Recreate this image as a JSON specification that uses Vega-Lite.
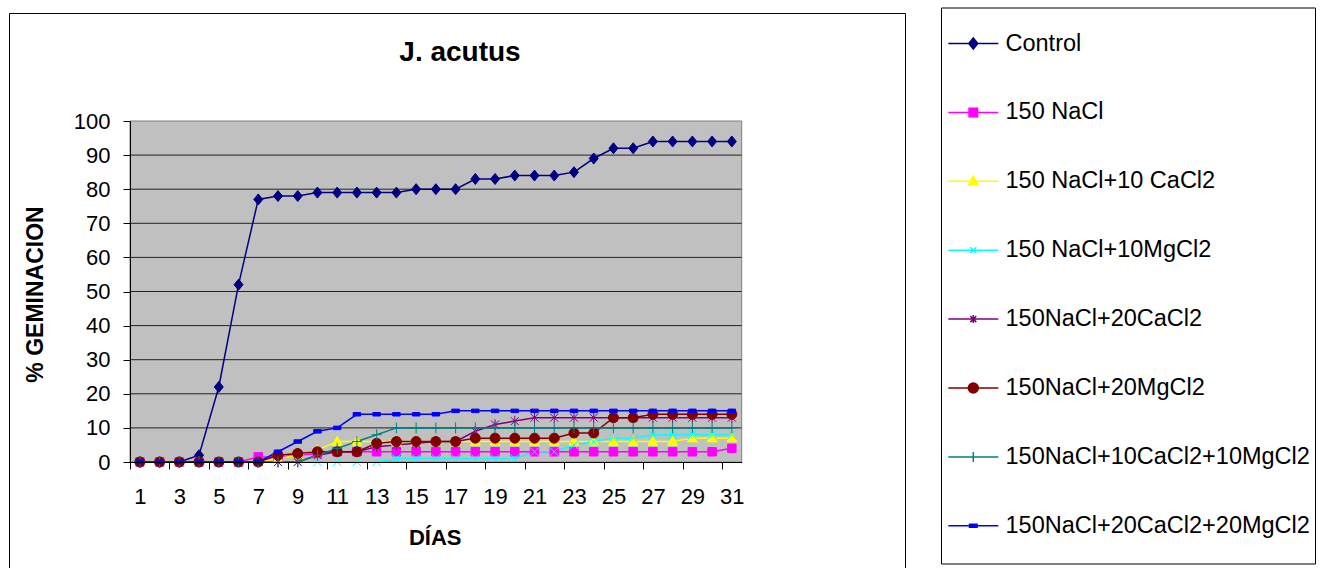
{
  "$schema": "https://vega.github.io/schema/vega-lite/v6.json",
  "width": 896,
  "height": 555,
  "autosize": {"type": "none"},
  "padding": {"left": 9, "top": 13, "right": 422, "bottom": 0},
  "background": "white",
  "title": {
    "text": "J. acutus",
    "frame": "group",
    "anchor": "middle",
    "offset": 0,
    "dx": 3,
    "dy": 82,
    "baseline": "alphabetic",
    "font": "Liberation Sans",
    "fontSize": 28,
    "fontWeight": "bold",
    "color": "#000000"
  },
  "datasets": {
    "germ": [
      {"day": 1, "series": "Control", "pct": 0},
      {"day": 2, "series": "Control", "pct": 0},
      {"day": 3, "series": "Control", "pct": 0},
      {"day": 4, "series": "Control", "pct": 2},
      {"day": 5, "series": "Control", "pct": 22},
      {"day": 6, "series": "Control", "pct": 52},
      {"day": 7, "series": "Control", "pct": 77},
      {"day": 8, "series": "Control", "pct": 78},
      {"day": 9, "series": "Control", "pct": 78},
      {"day": 10, "series": "Control", "pct": 79},
      {"day": 11, "series": "Control", "pct": 79},
      {"day": 12, "series": "Control", "pct": 79},
      {"day": 13, "series": "Control", "pct": 79},
      {"day": 14, "series": "Control", "pct": 79},
      {"day": 15, "series": "Control", "pct": 80},
      {"day": 16, "series": "Control", "pct": 80},
      {"day": 17, "series": "Control", "pct": 80},
      {"day": 18, "series": "Control", "pct": 83},
      {"day": 19, "series": "Control", "pct": 83},
      {"day": 20, "series": "Control", "pct": 84},
      {"day": 21, "series": "Control", "pct": 84},
      {"day": 22, "series": "Control", "pct": 84},
      {"day": 23, "series": "Control", "pct": 85},
      {"day": 24, "series": "Control", "pct": 89},
      {"day": 25, "series": "Control", "pct": 92},
      {"day": 26, "series": "Control", "pct": 92},
      {"day": 27, "series": "Control", "pct": 94},
      {"day": 28, "series": "Control", "pct": 94},
      {"day": 29, "series": "Control", "pct": 94},
      {"day": 30, "series": "Control", "pct": 94},
      {"day": 31, "series": "Control", "pct": 94},

      {"day": 1, "series": "150 NaCl", "pct": 0},
      {"day": 2, "series": "150 NaCl", "pct": 0},
      {"day": 3, "series": "150 NaCl", "pct": 0},
      {"day": 4, "series": "150 NaCl", "pct": 0},
      {"day": 5, "series": "150 NaCl", "pct": 0},
      {"day": 6, "series": "150 NaCl", "pct": 0},
      {"day": 7, "series": "150 NaCl", "pct": 1.5},
      {"day": 8, "series": "150 NaCl", "pct": 1.5},
      {"day": 9, "series": "150 NaCl", "pct": 2},
      {"day": 10, "series": "150 NaCl", "pct": 2.5},
      {"day": 11, "series": "150 NaCl", "pct": 3},
      {"day": 12, "series": "150 NaCl", "pct": 3},
      {"day": 13, "series": "150 NaCl", "pct": 3},
      {"day": 14, "series": "150 NaCl", "pct": 3},
      {"day": 15, "series": "150 NaCl", "pct": 3},
      {"day": 16, "series": "150 NaCl", "pct": 3},
      {"day": 17, "series": "150 NaCl", "pct": 3},
      {"day": 18, "series": "150 NaCl", "pct": 3},
      {"day": 19, "series": "150 NaCl", "pct": 3},
      {"day": 20, "series": "150 NaCl", "pct": 3},
      {"day": 21, "series": "150 NaCl", "pct": 3},
      {"day": 22, "series": "150 NaCl", "pct": 3},
      {"day": 23, "series": "150 NaCl", "pct": 3},
      {"day": 24, "series": "150 NaCl", "pct": 3},
      {"day": 25, "series": "150 NaCl", "pct": 3},
      {"day": 26, "series": "150 NaCl", "pct": 3},
      {"day": 27, "series": "150 NaCl", "pct": 3},
      {"day": 28, "series": "150 NaCl", "pct": 3},
      {"day": 29, "series": "150 NaCl", "pct": 3},
      {"day": 30, "series": "150 NaCl", "pct": 3},
      {"day": 31, "series": "150 NaCl", "pct": 4},

      {"day": 1, "series": "150 NaCl+10 CaCl2", "pct": 0},
      {"day": 2, "series": "150 NaCl+10 CaCl2", "pct": 0},
      {"day": 3, "series": "150 NaCl+10 CaCl2", "pct": 0},
      {"day": 4, "series": "150 NaCl+10 CaCl2", "pct": 0},
      {"day": 5, "series": "150 NaCl+10 CaCl2", "pct": 0},
      {"day": 6, "series": "150 NaCl+10 CaCl2", "pct": 0},
      {"day": 7, "series": "150 NaCl+10 CaCl2", "pct": 0},
      {"day": 8, "series": "150 NaCl+10 CaCl2", "pct": 1},
      {"day": 9, "series": "150 NaCl+10 CaCl2", "pct": 2},
      {"day": 10, "series": "150 NaCl+10 CaCl2", "pct": 3.5},
      {"day": 11, "series": "150 NaCl+10 CaCl2", "pct": 6},
      {"day": 12, "series": "150 NaCl+10 CaCl2", "pct": 6},
      {"day": 13, "series": "150 NaCl+10 CaCl2", "pct": 6},
      {"day": 14, "series": "150 NaCl+10 CaCl2", "pct": 6},
      {"day": 15, "series": "150 NaCl+10 CaCl2", "pct": 6},
      {"day": 16, "series": "150 NaCl+10 CaCl2", "pct": 6},
      {"day": 17, "series": "150 NaCl+10 CaCl2", "pct": 6},
      {"day": 18, "series": "150 NaCl+10 CaCl2", "pct": 6},
      {"day": 19, "series": "150 NaCl+10 CaCl2", "pct": 6},
      {"day": 20, "series": "150 NaCl+10 CaCl2", "pct": 6},
      {"day": 21, "series": "150 NaCl+10 CaCl2", "pct": 6},
      {"day": 22, "series": "150 NaCl+10 CaCl2", "pct": 6},
      {"day": 23, "series": "150 NaCl+10 CaCl2", "pct": 6},
      {"day": 24, "series": "150 NaCl+10 CaCl2", "pct": 6},
      {"day": 25, "series": "150 NaCl+10 CaCl2", "pct": 6},
      {"day": 26, "series": "150 NaCl+10 CaCl2", "pct": 6},
      {"day": 27, "series": "150 NaCl+10 CaCl2", "pct": 6},
      {"day": 28, "series": "150 NaCl+10 CaCl2", "pct": 6},
      {"day": 29, "series": "150 NaCl+10 CaCl2", "pct": 7},
      {"day": 30, "series": "150 NaCl+10 CaCl2", "pct": 7},
      {"day": 31, "series": "150 NaCl+10 CaCl2", "pct": 7},

      {"day": 1, "series": "150 NaCl+10MgCl2", "pct": 0},
      {"day": 2, "series": "150 NaCl+10MgCl2", "pct": 0},
      {"day": 3, "series": "150 NaCl+10MgCl2", "pct": 0},
      {"day": 4, "series": "150 NaCl+10MgCl2", "pct": 0},
      {"day": 5, "series": "150 NaCl+10MgCl2", "pct": 0},
      {"day": 6, "series": "150 NaCl+10MgCl2", "pct": 0},
      {"day": 7, "series": "150 NaCl+10MgCl2", "pct": 0},
      {"day": 8, "series": "150 NaCl+10MgCl2", "pct": 0},
      {"day": 9, "series": "150 NaCl+10MgCl2", "pct": 0},
      {"day": 10, "series": "150 NaCl+10MgCl2", "pct": 0},
      {"day": 11, "series": "150 NaCl+10MgCl2", "pct": 0},
      {"day": 12, "series": "150 NaCl+10MgCl2", "pct": 0},
      {"day": 13, "series": "150 NaCl+10MgCl2", "pct": 0},
      {"day": 14, "series": "150 NaCl+10MgCl2", "pct": 1},
      {"day": 15, "series": "150 NaCl+10MgCl2", "pct": 1},
      {"day": 16, "series": "150 NaCl+10MgCl2", "pct": 1},
      {"day": 17, "series": "150 NaCl+10MgCl2", "pct": 1},
      {"day": 18, "series": "150 NaCl+10MgCl2", "pct": 1},
      {"day": 19, "series": "150 NaCl+10MgCl2", "pct": 1},
      {"day": 20, "series": "150 NaCl+10MgCl2", "pct": 1},
      {"day": 21, "series": "150 NaCl+10MgCl2", "pct": 3},
      {"day": 22, "series": "150 NaCl+10MgCl2", "pct": 3},
      {"day": 23, "series": "150 NaCl+10MgCl2", "pct": 5},
      {"day": 24, "series": "150 NaCl+10MgCl2", "pct": 6},
      {"day": 25, "series": "150 NaCl+10MgCl2", "pct": 7},
      {"day": 26, "series": "150 NaCl+10MgCl2", "pct": 7},
      {"day": 27, "series": "150 NaCl+10MgCl2", "pct": 8},
      {"day": 28, "series": "150 NaCl+10MgCl2", "pct": 8},
      {"day": 29, "series": "150 NaCl+10MgCl2", "pct": 8},
      {"day": 30, "series": "150 NaCl+10MgCl2", "pct": 8},
      {"day": 31, "series": "150 NaCl+10MgCl2", "pct": 8},

      {"day": 1, "series": "150NaCl+20CaCl2", "pct": 0},
      {"day": 2, "series": "150NaCl+20CaCl2", "pct": 0},
      {"day": 3, "series": "150NaCl+20CaCl2", "pct": 0},
      {"day": 4, "series": "150NaCl+20CaCl2", "pct": 0},
      {"day": 5, "series": "150NaCl+20CaCl2", "pct": 0},
      {"day": 6, "series": "150NaCl+20CaCl2", "pct": 0},
      {"day": 7, "series": "150NaCl+20CaCl2", "pct": 0},
      {"day": 8, "series": "150NaCl+20CaCl2", "pct": 0},
      {"day": 9, "series": "150NaCl+20CaCl2", "pct": 0},
      {"day": 10, "series": "150NaCl+20CaCl2", "pct": 2},
      {"day": 11, "series": "150NaCl+20CaCl2", "pct": 3},
      {"day": 12, "series": "150NaCl+20CaCl2", "pct": 3},
      {"day": 13, "series": "150NaCl+20CaCl2", "pct": 4.5},
      {"day": 14, "series": "150NaCl+20CaCl2", "pct": 5},
      {"day": 15, "series": "150NaCl+20CaCl2", "pct": 5.5},
      {"day": 16, "series": "150NaCl+20CaCl2", "pct": 6},
      {"day": 17, "series": "150NaCl+20CaCl2", "pct": 6},
      {"day": 18, "series": "150NaCl+20CaCl2", "pct": 9},
      {"day": 19, "series": "150NaCl+20CaCl2", "pct": 11},
      {"day": 20, "series": "150NaCl+20CaCl2", "pct": 12},
      {"day": 21, "series": "150NaCl+20CaCl2", "pct": 13},
      {"day": 22, "series": "150NaCl+20CaCl2", "pct": 13},
      {"day": 23, "series": "150NaCl+20CaCl2", "pct": 13},
      {"day": 24, "series": "150NaCl+20CaCl2", "pct": 13},
      {"day": 25, "series": "150NaCl+20CaCl2", "pct": 13},
      {"day": 26, "series": "150NaCl+20CaCl2", "pct": 13},
      {"day": 27, "series": "150NaCl+20CaCl2", "pct": 13},
      {"day": 28, "series": "150NaCl+20CaCl2", "pct": 13},
      {"day": 29, "series": "150NaCl+20CaCl2", "pct": 13},
      {"day": 30, "series": "150NaCl+20CaCl2", "pct": 13},
      {"day": 31, "series": "150NaCl+20CaCl2", "pct": 13},

      {"day": 1, "series": "150NaCl+20MgCl2", "pct": 0},
      {"day": 2, "series": "150NaCl+20MgCl2", "pct": 0},
      {"day": 3, "series": "150NaCl+20MgCl2", "pct": 0},
      {"day": 4, "series": "150NaCl+20MgCl2", "pct": 0},
      {"day": 5, "series": "150NaCl+20MgCl2", "pct": 0},
      {"day": 6, "series": "150NaCl+20MgCl2", "pct": 0},
      {"day": 7, "series": "150NaCl+20MgCl2", "pct": 0},
      {"day": 8, "series": "150NaCl+20MgCl2", "pct": 2},
      {"day": 9, "series": "150NaCl+20MgCl2", "pct": 2.5},
      {"day": 10, "series": "150NaCl+20MgCl2", "pct": 3},
      {"day": 11, "series": "150NaCl+20MgCl2", "pct": 3},
      {"day": 12, "series": "150NaCl+20MgCl2", "pct": 3},
      {"day": 13, "series": "150NaCl+20MgCl2", "pct": 5.5},
      {"day": 14, "series": "150NaCl+20MgCl2", "pct": 6},
      {"day": 15, "series": "150NaCl+20MgCl2", "pct": 6},
      {"day": 16, "series": "150NaCl+20MgCl2", "pct": 6},
      {"day": 17, "series": "150NaCl+20MgCl2", "pct": 6},
      {"day": 18, "series": "150NaCl+20MgCl2", "pct": 7},
      {"day": 19, "series": "150NaCl+20MgCl2", "pct": 7},
      {"day": 20, "series": "150NaCl+20MgCl2", "pct": 7},
      {"day": 21, "series": "150NaCl+20MgCl2", "pct": 7},
      {"day": 22, "series": "150NaCl+20MgCl2", "pct": 7},
      {"day": 23, "series": "150NaCl+20MgCl2", "pct": 8.5},
      {"day": 24, "series": "150NaCl+20MgCl2", "pct": 8.5},
      {"day": 25, "series": "150NaCl+20MgCl2", "pct": 13},
      {"day": 26, "series": "150NaCl+20MgCl2", "pct": 13},
      {"day": 27, "series": "150NaCl+20MgCl2", "pct": 14},
      {"day": 28, "series": "150NaCl+20MgCl2", "pct": 14},
      {"day": 29, "series": "150NaCl+20MgCl2", "pct": 14},
      {"day": 30, "series": "150NaCl+20MgCl2", "pct": 14},
      {"day": 31, "series": "150NaCl+20MgCl2", "pct": 14},

      {"day": 1, "series": "150NaCl+10CaCl2+10MgCl2", "pct": 0},
      {"day": 2, "series": "150NaCl+10CaCl2+10MgCl2", "pct": 0},
      {"day": 3, "series": "150NaCl+10CaCl2+10MgCl2", "pct": 0},
      {"day": 4, "series": "150NaCl+10CaCl2+10MgCl2", "pct": 0},
      {"day": 5, "series": "150NaCl+10CaCl2+10MgCl2", "pct": 0},
      {"day": 6, "series": "150NaCl+10CaCl2+10MgCl2", "pct": 0},
      {"day": 7, "series": "150NaCl+10CaCl2+10MgCl2", "pct": 0},
      {"day": 8, "series": "150NaCl+10CaCl2+10MgCl2", "pct": 0},
      {"day": 9, "series": "150NaCl+10CaCl2+10MgCl2", "pct": 0},
      {"day": 10, "series": "150NaCl+10CaCl2+10MgCl2", "pct": 2},
      {"day": 11, "series": "150NaCl+10CaCl2+10MgCl2", "pct": 4},
      {"day": 12, "series": "150NaCl+10CaCl2+10MgCl2", "pct": 6},
      {"day": 13, "series": "150NaCl+10CaCl2+10MgCl2", "pct": 8},
      {"day": 14, "series": "150NaCl+10CaCl2+10MgCl2", "pct": 10},
      {"day": 15, "series": "150NaCl+10CaCl2+10MgCl2", "pct": 10},
      {"day": 16, "series": "150NaCl+10CaCl2+10MgCl2", "pct": 10},
      {"day": 17, "series": "150NaCl+10CaCl2+10MgCl2", "pct": 10},
      {"day": 18, "series": "150NaCl+10CaCl2+10MgCl2", "pct": 10},
      {"day": 19, "series": "150NaCl+10CaCl2+10MgCl2", "pct": 10},
      {"day": 20, "series": "150NaCl+10CaCl2+10MgCl2", "pct": 10},
      {"day": 21, "series": "150NaCl+10CaCl2+10MgCl2", "pct": 10},
      {"day": 22, "series": "150NaCl+10CaCl2+10MgCl2", "pct": 10},
      {"day": 23, "series": "150NaCl+10CaCl2+10MgCl2", "pct": 10},
      {"day": 24, "series": "150NaCl+10CaCl2+10MgCl2", "pct": 10},
      {"day": 25, "series": "150NaCl+10CaCl2+10MgCl2", "pct": 10},
      {"day": 26, "series": "150NaCl+10CaCl2+10MgCl2", "pct": 10},
      {"day": 27, "series": "150NaCl+10CaCl2+10MgCl2", "pct": 10},
      {"day": 28, "series": "150NaCl+10CaCl2+10MgCl2", "pct": 10},
      {"day": 29, "series": "150NaCl+10CaCl2+10MgCl2", "pct": 10},
      {"day": 30, "series": "150NaCl+10CaCl2+10MgCl2", "pct": 10},
      {"day": 31, "series": "150NaCl+10CaCl2+10MgCl2", "pct": 10},

      {"day": 1, "series": "150NaCl+20CaCl2+20MgCl2", "pct": 0},
      {"day": 2, "series": "150NaCl+20CaCl2+20MgCl2", "pct": 0},
      {"day": 3, "series": "150NaCl+20CaCl2+20MgCl2", "pct": 0},
      {"day": 4, "series": "150NaCl+20CaCl2+20MgCl2", "pct": 0},
      {"day": 5, "series": "150NaCl+20CaCl2+20MgCl2", "pct": 0},
      {"day": 6, "series": "150NaCl+20CaCl2+20MgCl2", "pct": 0},
      {"day": 7, "series": "150NaCl+20CaCl2+20MgCl2", "pct": 0},
      {"day": 8, "series": "150NaCl+20CaCl2+20MgCl2", "pct": 3},
      {"day": 9, "series": "150NaCl+20CaCl2+20MgCl2", "pct": 6},
      {"day": 10, "series": "150NaCl+20CaCl2+20MgCl2", "pct": 9},
      {"day": 11, "series": "150NaCl+20CaCl2+20MgCl2", "pct": 10},
      {"day": 12, "series": "150NaCl+20CaCl2+20MgCl2", "pct": 14},
      {"day": 13, "series": "150NaCl+20CaCl2+20MgCl2", "pct": 14},
      {"day": 14, "series": "150NaCl+20CaCl2+20MgCl2", "pct": 14},
      {"day": 15, "series": "150NaCl+20CaCl2+20MgCl2", "pct": 14},
      {"day": 16, "series": "150NaCl+20CaCl2+20MgCl2", "pct": 14},
      {"day": 17, "series": "150NaCl+20CaCl2+20MgCl2", "pct": 15},
      {"day": 18, "series": "150NaCl+20CaCl2+20MgCl2", "pct": 15},
      {"day": 19, "series": "150NaCl+20CaCl2+20MgCl2", "pct": 15},
      {"day": 20, "series": "150NaCl+20CaCl2+20MgCl2", "pct": 15},
      {"day": 21, "series": "150NaCl+20CaCl2+20MgCl2", "pct": 15},
      {"day": 22, "series": "150NaCl+20CaCl2+20MgCl2", "pct": 15},
      {"day": 23, "series": "150NaCl+20CaCl2+20MgCl2", "pct": 15},
      {"day": 24, "series": "150NaCl+20CaCl2+20MgCl2", "pct": 15},
      {"day": 25, "series": "150NaCl+20CaCl2+20MgCl2", "pct": 15},
      {"day": 26, "series": "150NaCl+20CaCl2+20MgCl2", "pct": 15},
      {"day": 27, "series": "150NaCl+20CaCl2+20MgCl2", "pct": 15},
      {"day": 28, "series": "150NaCl+20CaCl2+20MgCl2", "pct": 15},
      {"day": 29, "series": "150NaCl+20CaCl2+20MgCl2", "pct": 15},
      {"day": 30, "series": "150NaCl+20CaCl2+20MgCl2", "pct": 15},
      {"day": 31, "series": "150NaCl+20CaCl2+20MgCl2", "pct": 15}
    ]
  },
  "data": {"name": "germ"},
  "layer": [
    {
      "data": {"values": [{}]},
      "mark": {"type": "rect", "fill": "#C0C0C0", "stroke": "#808080", "strokeWidth": 1},
      "encoding": {
        "x": {
          "datum": 0.5,
          "type": "quantitative",
          "title": "DÍAS",
          "scale": {"domain": [0.5, 31.5], "range": [121, 732.7], "nice": false, "zero": false},
          "axis": {
            "values": [0.5, 1.5, 2.5, 3.5, 4.5, 5.5, 6.5, 7.5, 8.5, 9.5, 10.5, 11.5, 12.5, 13.5, 14.5, 15.5, 16.5, 17.5, 18.5, 19.5, 20.5, 21.5, 22.5, 23.5, 24.5, 25.5, 26.5, 27.5, 28.5, 29.5, 30.5, 31.5],
            "offset": -106,
            "labelExpr": "(datum.value + 0.5) % 2 == 1 ? '' + (datum.value + 0.5) : ''",
            "labelOffset": 9.87,
            "labelOverlap": false,
            "labelFlush": false,
            "labelBound": false,
            "labelPadding": 34,
            "labelBaseline": "alphabetic",
            "labelAlign": "center",
            "tickSize": 7,
            "titleX": 425.7,
            "titleY": 82,
            "titleBaseline": "alphabetic",
            "titleAlign": "center",
            "titleFontSize": 22,
            "grid": false,
            "zindex": 1
          }
        },
        "x2": {"datum": 31.5},
        "y": {
          "datum": 0,
          "type": "quantitative",
          "title": "% GEMINACION",
          "scale": {"domain": [0, 100], "range": [449, 108], "nice": false, "zero": false},
          "axis": {
            "values": [0, 10, 20, 30, 40, 50, 60, 70, 80, 90, 100],
            "offset": -121,
            "labelPadding": 13,
            "labelFlush": false,
            "labelOverlap": false,
            "tickSize": 7,
            "titleX": -87.3,
            "titleY": 281,
            "titleAngle": 270,
            "titleBaseline": "alphabetic",
            "titleAlign": "center",
            "titleFontSize": 23,
            "grid": false,
            "zindex": 1
          }
        },
        "y2": {"datum": 100}
      }
    },
    {"data": {"values": [{}]}, "mark": {"type": "rule", "color": "#222222", "strokeWidth": 1}, "encoding": {"x": {"datum": 0.5}, "x2": {"datum": 31.5}, "y": {"datum": 10}}},
    {"data": {"values": [{}]}, "mark": {"type": "rule", "color": "#222222", "strokeWidth": 1}, "encoding": {"x": {"datum": 0.5}, "x2": {"datum": 31.5}, "y": {"datum": 20}}},
    {"data": {"values": [{}]}, "mark": {"type": "rule", "color": "#222222", "strokeWidth": 1}, "encoding": {"x": {"datum": 0.5}, "x2": {"datum": 31.5}, "y": {"datum": 30}}},
    {"data": {"values": [{}]}, "mark": {"type": "rule", "color": "#222222", "strokeWidth": 1}, "encoding": {"x": {"datum": 0.5}, "x2": {"datum": 31.5}, "y": {"datum": 40}}},
    {"data": {"values": [{}]}, "mark": {"type": "rule", "color": "#222222", "strokeWidth": 1}, "encoding": {"x": {"datum": 0.5}, "x2": {"datum": 31.5}, "y": {"datum": 50}}},
    {"data": {"values": [{}]}, "mark": {"type": "rule", "color": "#222222", "strokeWidth": 1}, "encoding": {"x": {"datum": 0.5}, "x2": {"datum": 31.5}, "y": {"datum": 60}}},
    {"data": {"values": [{}]}, "mark": {"type": "rule", "color": "#222222", "strokeWidth": 1}, "encoding": {"x": {"datum": 0.5}, "x2": {"datum": 31.5}, "y": {"datum": 70}}},
    {"data": {"values": [{}]}, "mark": {"type": "rule", "color": "#222222", "strokeWidth": 1}, "encoding": {"x": {"datum": 0.5}, "x2": {"datum": 31.5}, "y": {"datum": 80}}},
    {"data": {"values": [{}]}, "mark": {"type": "rule", "color": "#222222", "strokeWidth": 1}, "encoding": {"x": {"datum": 0.5}, "x2": {"datum": 31.5}, "y": {"datum": 90}}},
    {
      "mark": {"type": "line", "strokeWidth": 1.5},
      "encoding": {
        "x": {"field": "day", "type": "quantitative", "title": "DÍAS"},
        "y": {"field": "pct", "type": "quantitative", "title": "% GEMINACION"},
        "color": {
          "field": "series",
          "type": "nominal",
          "scale": {
            "domain": ["Control", "150 NaCl", "150 NaCl+10 CaCl2", "150 NaCl+10MgCl2", "150NaCl+20CaCl2", "150NaCl+20MgCl2", "150NaCl+10CaCl2+10MgCl2", "150NaCl+20CaCl2+20MgCl2"],
            "range": ["#000080", "#FF00FF", "#FFFF00", "#00FFFF", "#800080", "#800000", "#008080", "#0000FF"]
          },
          "legend": null
        }
      }
    },
    {
      "mark": {"type": "point", "filled": true, "opacity": 1, "size": 100, "strokeWidth": 1},
      "encoding": {
        "x": {"field": "day", "type": "quantitative", "title": "DÍAS"},
        "y": {"field": "pct", "type": "quantitative", "title": "% GEMINACION"},
        "color": {
          "field": "series",
          "type": "nominal",
          "scale": {
            "domain": ["Control", "150 NaCl", "150 NaCl+10 CaCl2", "150 NaCl+10MgCl2", "150NaCl+20CaCl2", "150NaCl+20MgCl2", "150NaCl+10CaCl2+10MgCl2", "150NaCl+20CaCl2+20MgCl2"],
            "range": ["#000080", "#FF00FF", "#FFFF00", "#00FFFF", "#800080", "#800000", "#008080", "#0000FF"]
          },
          "legend": null
        },
        "stroke": {
          "field": "series",
          "type": "nominal",
          "scale": {
            "domain": ["Control", "150 NaCl", "150 NaCl+10 CaCl2", "150 NaCl+10MgCl2", "150NaCl+20CaCl2", "150NaCl+20MgCl2", "150NaCl+10CaCl2+10MgCl2", "150NaCl+20CaCl2+20MgCl2"],
            "range": ["#000080", "#FF00FF", "#FFFF00", "#00FFFF", "#800080", "#800000", "#008080", "#0000FF"]
          },
          "legend": null
        },
        "shape": {
          "field": "series",
          "type": "nominal",
          "scale": {
            "domain": ["Control", "150 NaCl", "150 NaCl+10 CaCl2", "150 NaCl+10MgCl2", "150NaCl+20CaCl2", "150NaCl+20MgCl2", "150NaCl+10CaCl2+10MgCl2", "150NaCl+20CaCl2+20MgCl2"],
            "range": [
              "M0,-1.1L0.9,0L0,1.1L-0.9,0Z",
              "M-0.85,-0.85H0.85V0.85H-0.85Z",
              "M0,-1.05L1,0.75H-1Z",
              "M-0.85,-0.85L0.85,0.85M-0.85,0.85L0.85,-0.85",
              "M-0.8,-0.8L0.8,0.8M-0.8,0.8L0.8,-0.8M0,-1.05V1.05",
              "M-1,0A1,1,0,1,1,1,0A1,1,0,1,1,-1,0Z",
              "M0,-1.1V1.1M-1,0H1",
              "M-0.75,-0.35H0.75V0.35H-0.75Z"
            ]
          },
          "legend": null
        }
      }
    },
    {
      "transform": [{"filter": "false"}],
      "mark": {"type": "point", "filled": true, "opacity": 1, "size": 3600, "strokeWidth": 1.5},
      "encoding": {
        "x": {"field": "day", "type": "quantitative", "title": "DÍAS"},
        "y": {"field": "pct", "type": "quantitative", "title": "% GEMINACION"},
        "color": {
          "field": "series",
          "type": "nominal",
          "scale": {
            "domain": ["Control", "150 NaCl", "150 NaCl+10 CaCl2", "150 NaCl+10MgCl2", "150NaCl+20CaCl2", "150NaCl+20MgCl2", "150NaCl+10CaCl2+10MgCl2", "150NaCl+20CaCl2+20MgCl2"],
            "range": ["#000080", "#FF00FF", "#FFFF00", "#00FFFF", "#800080", "#800000", "#008080", "#0000FF"]
          },
          "legend": {"orient": "none", "legendX": 932, "legendY": -5.5, "title": null, "padding": 5, "strokeColor": "#000000", "fillColor": "#FFFFFF", "symbolSize": 3600, "symbolStrokeWidth": 1.5, "symbolOffset": -3.7, "labelOffset": 1.2, "labelFontSize": 23.5, "labelFont": "Liberation Sans", "labelColor": "#000000", "labelLimit": 400, "rowPadding": 4.9}
        },
        "stroke": {
          "field": "series",
          "type": "nominal",
          "scale": {
            "domain": ["Control", "150 NaCl", "150 NaCl+10 CaCl2", "150 NaCl+10MgCl2", "150NaCl+20CaCl2", "150NaCl+20MgCl2", "150NaCl+10CaCl2+10MgCl2", "150NaCl+20CaCl2+20MgCl2"],
            "range": ["#000080", "#FF00FF", "#FFFF00", "#00FFFF", "#800080", "#800000", "#008080", "#0000FF"]
          },
          "legend": {"orient": "none", "legendX": 932, "legendY": -5.5, "title": null, "padding": 5, "strokeColor": "#000000", "fillColor": "#FFFFFF", "symbolSize": 3600, "symbolStrokeWidth": 1.5, "symbolOffset": -3.7, "labelOffset": 1.2, "labelFontSize": 23.5, "labelFont": "Liberation Sans", "labelColor": "#000000", "labelLimit": 400, "rowPadding": 4.9}
        },
        "shape": {
          "field": "series",
          "type": "nominal",
          "scale": {
            "domain": ["Control", "150 NaCl", "150 NaCl+10 CaCl2", "150 NaCl+10MgCl2", "150NaCl+20CaCl2", "150NaCl+20MgCl2", "150NaCl+10CaCl2+10MgCl2", "150NaCl+20CaCl2+20MgCl2"],
            "range": [
              "M0,0.9833M-0.8333,0H0.8333M0,-0.1833L0.15,0L0,0.1833L-0.15,0Z",
              "M0,0.9833M-0.8333,0H0.8333M-0.1417,-0.1417H0.1417V0.1417H-0.1417Z",
              "M0,0.9833M-0.8333,0H0.8333M0,-0.175L0.1667,0.125H-0.1667Z",
              "M0,0.9833M-0.8333,0H0.8333M-0.1,-0.1L0.1,0.1M-0.1,0.1L0.1,-0.1",
              "M0,0.9833M-0.8333,0H0.8333M-0.1,-0.1L0.1,0.1M-0.1,0.1L0.1,-0.1M0,-0.1333V0.1333",
              "M0,0.9833M-0.8333,0H0.8333M-0.1667,0A0.1667,0.1667,0,1,1,0.1667,0A0.1667,0.1667,0,1,1,-0.1667,0Z",
              "M0,0.9833M-0.8333,0H0.8333M0,-0.1667V0.1667",
              "M0,0.9833M-0.8333,0H0.8333M-0.125,-0.05H0.125V0.05H-0.125Z"
            ]
          },
          "legend": {"orient": "none", "legendX": 932, "legendY": -5.5, "title": null, "padding": 5, "strokeColor": "#000000", "fillColor": "#FFFFFF", "symbolSize": 3600, "symbolStrokeWidth": 1.5, "symbolOffset": -3.7, "labelOffset": 1.2, "labelFontSize": 23.5, "labelFont": "Liberation Sans", "labelColor": "#000000", "labelLimit": 400, "rowPadding": 4.9}
        }
      }
    }
  ],
  "resolve": {"scale": {"color": "independent", "stroke": "independent", "shape": "independent"}},
  "config": {
    "font": "Liberation Sans",
    "view": {"fill": "white", "stroke": "#000000", "strokeWidth": 1},
    "axis": {
      "grid": false,
      "domainColor": "#000000",
      "tickColor": "#000000",
      "labelColor": "#000000",
      "labelFont": "Liberation Sans",
      "labelFontSize": 22,
      "titleColor": "#000000",
      "titleFont": "Liberation Sans",
      "titleFontWeight": "bold"
    }
  }
}
